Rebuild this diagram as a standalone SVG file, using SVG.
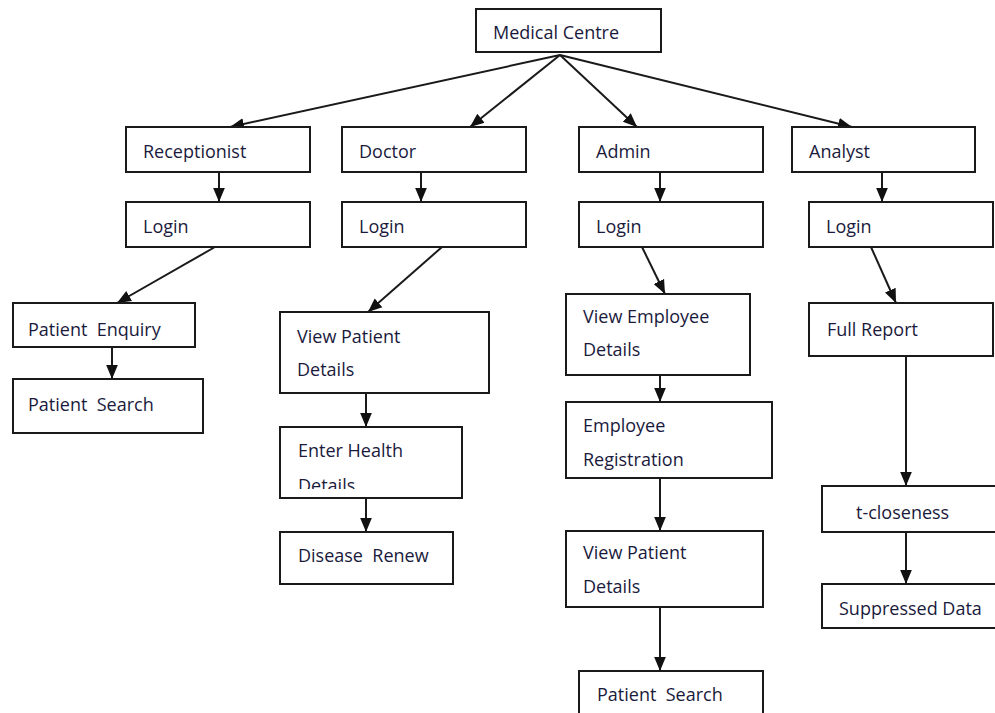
<svg xmlns="http://www.w3.org/2000/svg" width="995" height="713" viewBox="0 0 995 713">
<style>
.box{fill:#fff;stroke:#1a1a1a;stroke-width:2}
.t{font-family:"Open Sans","Liberation Sans",sans-serif;font-size:18px;fill:#1a1a3c}
.c{fill:none;stroke:#1a1a1a;stroke-width:2}
</style>
<defs>
<marker id="ah" markerUnits="userSpaceOnUse" markerWidth="14" markerHeight="14" viewBox="0 0 12 12" refX="12" refY="6" orient="auto">
<path d="M0,1 L12,6 L0,11 Z" fill="#111"/>
</marker>
<clipPath id="clipEH"><rect x="280" y="427" width="182" height="62"/></clipPath>
</defs>
<rect width="995" height="713" fill="#fff"/>
<g id="connectors">
<line class="c" x1="560" y1="55" x2="230" y2="127" marker-end="url(#ah)"/>
<line class="c" x1="560" y1="55" x2="470" y2="127" marker-end="url(#ah)"/>
<line class="c" x1="560" y1="55" x2="637" y2="127" marker-end="url(#ah)"/>
<line class="c" x1="560" y1="55" x2="852" y2="127" marker-end="url(#ah)"/>
<line class="c" x1="219" y1="172" x2="219" y2="202" marker-end="url(#ah)"/>
<line class="c" x1="421" y1="172" x2="421" y2="202" marker-end="url(#ah)"/>
<line class="c" x1="660" y1="172" x2="660" y2="202" marker-end="url(#ah)"/>
<line class="c" x1="882" y1="172" x2="882" y2="202" marker-end="url(#ah)"/>
<line class="c" x1="215" y1="247" x2="117" y2="303" marker-end="url(#ah)"/>
<line class="c" x1="112" y1="347" x2="112" y2="379" marker-end="url(#ah)"/>
<line class="c" x1="442" y1="247" x2="368" y2="312" marker-end="url(#ah)"/>
<line class="c" x1="366" y1="393" x2="366" y2="427" marker-end="url(#ah)"/>
<line class="c" x1="366" y1="498" x2="366" y2="532" marker-end="url(#ah)"/>
<line class="c" x1="642" y1="247" x2="665" y2="294" marker-end="url(#ah)"/>
<line class="c" x1="660" y1="356" x2="660" y2="402" marker-end="url(#ah)"/>
<line class="c" x1="660" y1="478" x2="660" y2="531" marker-end="url(#ah)"/>
<line class="c" x1="660" y1="607" x2="660" y2="671" marker-end="url(#ah)"/>
<line class="c" x1="871" y1="247" x2="896" y2="303" marker-end="url(#ah)"/>
<line class="c" x1="906" y1="356" x2="906" y2="486" marker-end="url(#ah)"/>
<line class="c" x1="906" y1="532" x2="906" y2="584" marker-end="url(#ah)"/>
</g>
<g id="medical-centre"><rect class="box" x="476" y="9" width="185" height="43"/><text class="t" x="493" y="39">Medical Centre</text></g>
<g id="receptionist"><rect class="box" x="126" y="127" width="184" height="45"/><text class="t" x="143" y="158">Receptionist</text></g>
<g id="doctor"><rect class="box" x="342" y="127" width="184" height="45"/><text class="t" x="359" y="158">Doctor</text></g>
<g id="admin"><rect class="box" x="579" y="127" width="184" height="45"/><text class="t" x="596" y="158">Admin</text></g>
<g id="analyst"><rect class="box" x="792" y="127" width="183" height="45"/><text class="t" x="809" y="158">Analyst</text></g>
<g id="login-receptionist"><rect class="box" x="126" y="202" width="184" height="45"/><text class="t" x="143" y="233">Login</text></g>
<g id="login-doctor"><rect class="box" x="342" y="202" width="184" height="45"/><text class="t" x="359" y="233">Login</text></g>
<g id="login-admin"><rect class="box" x="579" y="202" width="184" height="45"/><text class="t" x="596" y="233">Login</text></g>
<g id="login-analyst"><rect class="box" x="809" y="202" width="184" height="45"/><text class="t" x="826" y="233">Login</text></g>
<g id="patient-enquiry"><rect class="box" x="13" y="303" width="182" height="44"/><text class="t" x="28" y="336" style="white-space:pre">Patient  Enquiry</text></g>
<g id="patient-search-1"><rect class="box" x="13" y="379" width="190" height="54"/><text class="t" x="28" y="411" style="white-space:pre">Patient  Search</text></g>
<g id="view-patient-details-doctor"><rect class="box" x="280" y="312" width="209" height="81"/><text class="t" x="297" y="343">View Patient</text><text class="t" x="297" y="376">Details</text></g>
<g id="enter-health-details"><rect class="box" x="280" y="427" width="182" height="71"/><text class="t" x="298" y="457">Enter Health</text><text class="t" x="298" y="492" clip-path="url(#clipEH)">Details</text></g>
<g id="disease-renew"><rect class="box" x="280" y="532" width="173" height="52"/><text class="t" x="298" y="562" style="white-space:pre">Disease  Renew</text></g>
<g id="view-employee-details"><rect class="box" x="566" y="294" width="184" height="81"/><text class="t" x="583" y="323">View Employee</text><text class="t" x="583" y="356">Details</text></g>
<g id="employee-registration"><rect class="box" x="566" y="402" width="206" height="76"/><text class="t" x="583" y="432">Employee</text><text class="t" x="583" y="466">Registration</text></g>
<g id="view-patient-details-admin"><rect class="box" x="566" y="531" width="197" height="76"/><text class="t" x="583" y="559">View Patient</text><text class="t" x="583" y="593">Details</text></g>
<g id="patient-search-2"><rect class="box" x="579" y="671" width="184" height="60"/><text class="t" x="597" y="701" style="white-space:pre">Patient  Search</text></g>
<g id="full-report"><rect class="box" x="809" y="303" width="184" height="53"/><text class="t" x="827" y="336">Full Report</text></g>
<g id="t-closeness"><rect class="box" x="822" y="486" width="190" height="46"/><text class="t" x="856" y="519">t-closeness</text></g>
<g id="suppressed-data"><rect class="box" x="822" y="584" width="190" height="44"/><text class="t" x="839" y="615">Suppressed Data</text></g>
</svg>
